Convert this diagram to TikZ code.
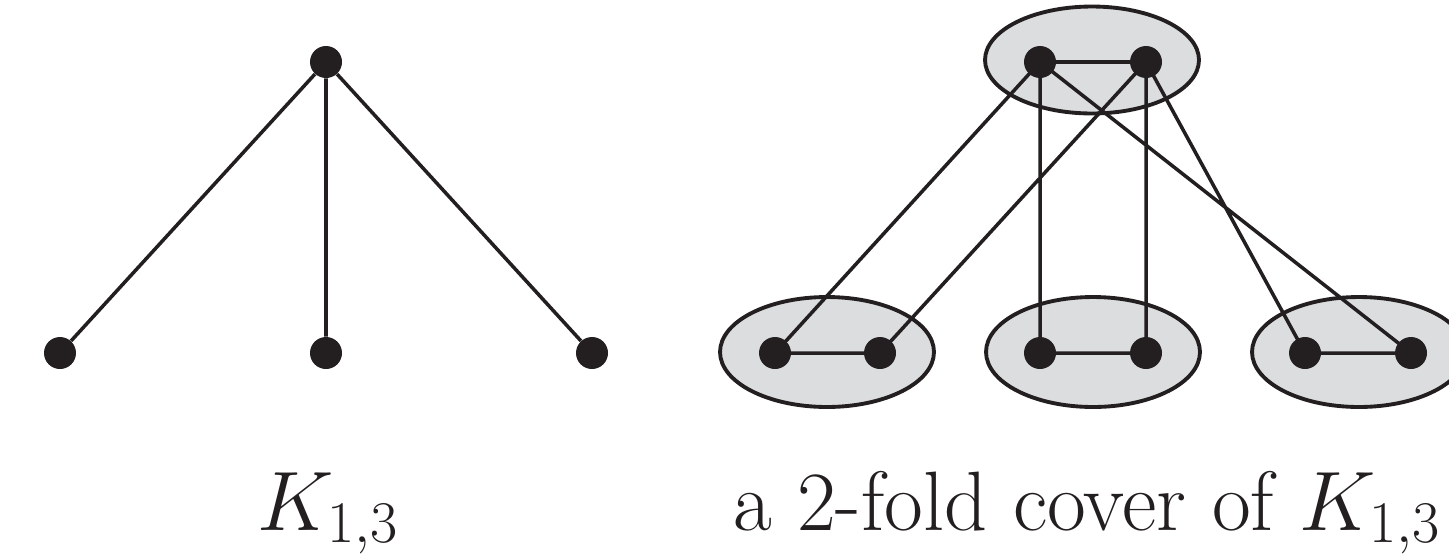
\RequirePackage{fix-cm}
\documentclass[tikz,border=0pt]{standalone}
\usetikzlibrary{shapes.geometric}
\definecolor{shade}{HTML}{DCDDDF}
\definecolor{ink}{HTML}{231F20}
\begin{document}
\begin{tikzpicture}[x=0.02cm,y=-0.02cm,
  vtx/.style={circle,fill=ink,draw=none,minimum size=0.64cm,inner sep=0pt},
  fiber/.style={ellipse,fill=shade,draw=ink,line width=2.2pt,minimum width=4.28cm,minimum height=2.14cm,inner sep=0pt},
  edge/.style={draw=ink,line width=2pt},
  lbl/.style={font=\fontsize{48}{56}\selectfont,text=ink,inner sep=0pt,anchor=base}]
\useasboundingbox (0,0) rectangle (1449,555);
\clip (0,0) rectangle (1449,555);
% left graph
\node[vtx] (c) at (326,62) {};
\node[vtx] (l1) at (60,353) {};
\node[vtx] (l2) at (326,353) {};
\node[vtx] (l3) at (592,353) {};
\draw[edge] (c) -- (l1) (c) -- (l2) (c) -- (l3);
\node[lbl] (k) at (328,530) {$K_{1,3}$};
% right graph fibers
\node[fiber] (E0) at (1092,60) {};
\node[fiber,minimum height=2.2cm] (E1) at (827,352) {};
\node[fiber,minimum height=2.2cm] (E2) at (1093,352) {};
\node[fiber,minimum height=2.2cm] (E3) at (1359,352) {};
\coordinate (a) at (1040,62);
\coordinate (b) at (1146,62);
\coordinate (p1) at (775,353);
\coordinate (q1) at (880,353);
\coordinate (p2) at (1040,353);
\coordinate (q2) at (1146,353);
\coordinate (p3) at (1305,353);
\coordinate (q3) at (1411,353);
\draw[edge] (a) -- (b) (p1) -- (q1) (p2) -- (q2) (p3) -- (q3)
  (a) -- (p1) (b) -- (q1) (a) -- (p2) (b) -- (q2) (a) -- (q3) (b) -- (p3);
\foreach \v in {a,b,p1,q1,p2,q2,p3,q3} \node[vtx] (n\v) at (\v) {};
\node[lbl] (cov) at (1087,530) {a 2-fold cover of $K_{1,3}$};
\end{tikzpicture}
\end{document}
